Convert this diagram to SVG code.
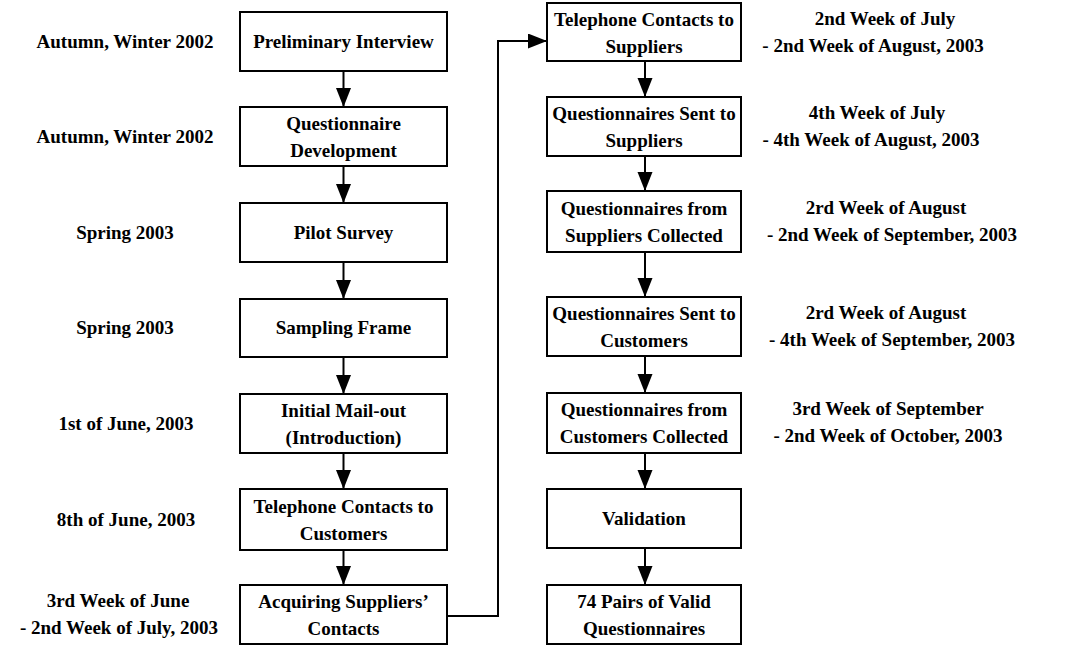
<svg xmlns="http://www.w3.org/2000/svg" width="1073" height="646" viewBox="0 0 1073 646">
<style>
text{font-family:"Liberation Serif","Times New Roman",serif;font-weight:bold;font-size:19px;fill:#000;text-anchor:middle}
.box{fill:#fff;stroke:#000;stroke-width:2}
.con{fill:none;stroke:#000;stroke-width:2}
</style>
<defs>
<marker id="ah" markerUnits="userSpaceOnUse" markerWidth="20" markerHeight="16" refX="19" refY="7.5" orient="auto">
<path d="M0,0 L19,7.5 L0,15 Z" fill="#000"/>
</marker>
</defs>
<rect width="1073" height="646" fill="#fff"/>
<g id="labels-left">
<text x="125" y="48">Autumn, Winter 2002</text>
<text x="125" y="143">Autumn, Winter 2002</text>
<text x="125" y="239">Spring 2003</text>
<text x="125" y="334">Spring 2003</text>
<text x="126" y="430">1st of June, 2003</text>
<text x="126" y="526">8th of June, 2003</text>
<text x="118" y="607">3rd Week of June</text>
<text x="119" y="634">- 2nd Week of July, 2003</text>
</g>
<g id="labels-right">
<text x="885" y="25">2nd Week of July</text>
<text x="873" y="52">- 2nd Week of August, 2003</text>
<text x="877" y="119">4th Week of July</text>
<text x="871" y="146">- 4th Week of August, 2003</text>
<text x="886" y="214">2rd Week of August</text>
<text x="892" y="241">- 2nd Week of September, 2003</text>
<text x="886" y="319">2rd Week of August</text>
<text x="892" y="346">- 4th Week of September, 2003</text>
<text x="888" y="415">3rd Week of September</text>
<text x="888" y="442">- 2nd Week of October, 2003</text>
</g>
<g id="connectors">
<line class="con" x1="343.5" y1="71" x2="343.5" y2="107" marker-end="url(#ah)"/>
<line class="con" x1="343.5" y1="166" x2="343.5" y2="203" marker-end="url(#ah)"/>
<line class="con" x1="343.5" y1="262" x2="343.5" y2="299" marker-end="url(#ah)"/>
<line class="con" x1="343.5" y1="357" x2="343.5" y2="394" marker-end="url(#ah)"/>
<line class="con" x1="343.5" y1="453" x2="343.5" y2="489" marker-end="url(#ah)"/>
<line class="con" x1="343.5" y1="550" x2="343.5" y2="585" marker-end="url(#ah)"/>
<path class="con" d="M447,616 L498,616 L498,41 L547,41" marker-end="url(#ah)"/>
<line class="con" x1="645" y1="61" x2="645" y2="97" marker-end="url(#ah)"/>
<line class="con" x1="645" y1="156" x2="645" y2="191" marker-end="url(#ah)"/>
<line class="con" x1="645" y1="252" x2="645" y2="297" marker-end="url(#ah)"/>
<line class="con" x1="645" y1="356" x2="645" y2="393" marker-end="url(#ah)"/>
<line class="con" x1="645" y1="453" x2="645" y2="489" marker-end="url(#ah)"/>
<line class="con" x1="645" y1="548" x2="645" y2="585" marker-end="url(#ah)"/>
</g>
<g id="n1"><rect class="box" x="240" y="12" width="207" height="59"/><text x="343.5" y="48">Preliminary Interview</text></g>
<g id="n2"><rect class="box" x="240" y="107" width="207" height="59"/><text x="343.5" y="130">Questionnaire</text><text x="343.5" y="157">Development</text></g>
<g id="n3"><rect class="box" x="240" y="203" width="207" height="59"/><text x="343.5" y="239">Pilot Survey</text></g>
<g id="n4"><rect class="box" x="240" y="299" width="207" height="58"/><text x="343.5" y="334">Sampling Frame</text></g>
<g id="n5"><rect class="box" x="240" y="394" width="207" height="59"/><text x="343.5" y="417">Initial Mail-out</text><text x="343.5" y="444">(Introduction)</text></g>
<g id="n6"><rect class="box" x="240" y="489" width="207" height="61"/><text x="343.5" y="513">Telephone Contacts to</text><text x="343.5" y="540">Customers</text></g>
<g id="n7"><rect class="box" x="240" y="585" width="207" height="59"/><text x="343.5" y="608">Acquiring Suppliers’</text><text x="343.5" y="635">Contacts</text></g>
<g id="n8"><rect class="box" x="547" y="3" width="194" height="58"/><text x="644" y="26">Telephone Contacts to</text><text x="644" y="53">Suppliers</text></g>
<g id="n9"><rect class="box" x="547" y="97" width="194" height="59"/><text x="644" y="120">Questionnaires Sent to</text><text x="644" y="147">Suppliers</text></g>
<g id="n10"><rect class="box" x="547" y="191" width="194" height="61"/><text x="644" y="215">Questionnaires from</text><text x="644" y="242">Suppliers Collected</text></g>
<g id="n11"><rect class="box" x="547" y="297" width="194" height="59"/><text x="644" y="320">Questionnaires Sent to</text><text x="644" y="347">Customers</text></g>
<g id="n12"><rect class="box" x="547" y="393" width="194" height="60"/><text x="644" y="416">Questionnaires from</text><text x="644" y="443">Customers Collected</text></g>
<g id="n13"><rect class="box" x="547" y="489" width="194" height="59"/><text x="644" y="525">Validation</text></g>
<g id="n14"><rect class="box" x="547" y="585" width="194" height="59"/><text x="644" y="608">74 Pairs of Valid</text><text x="644" y="635">Questionnaires</text></g>
</svg>
